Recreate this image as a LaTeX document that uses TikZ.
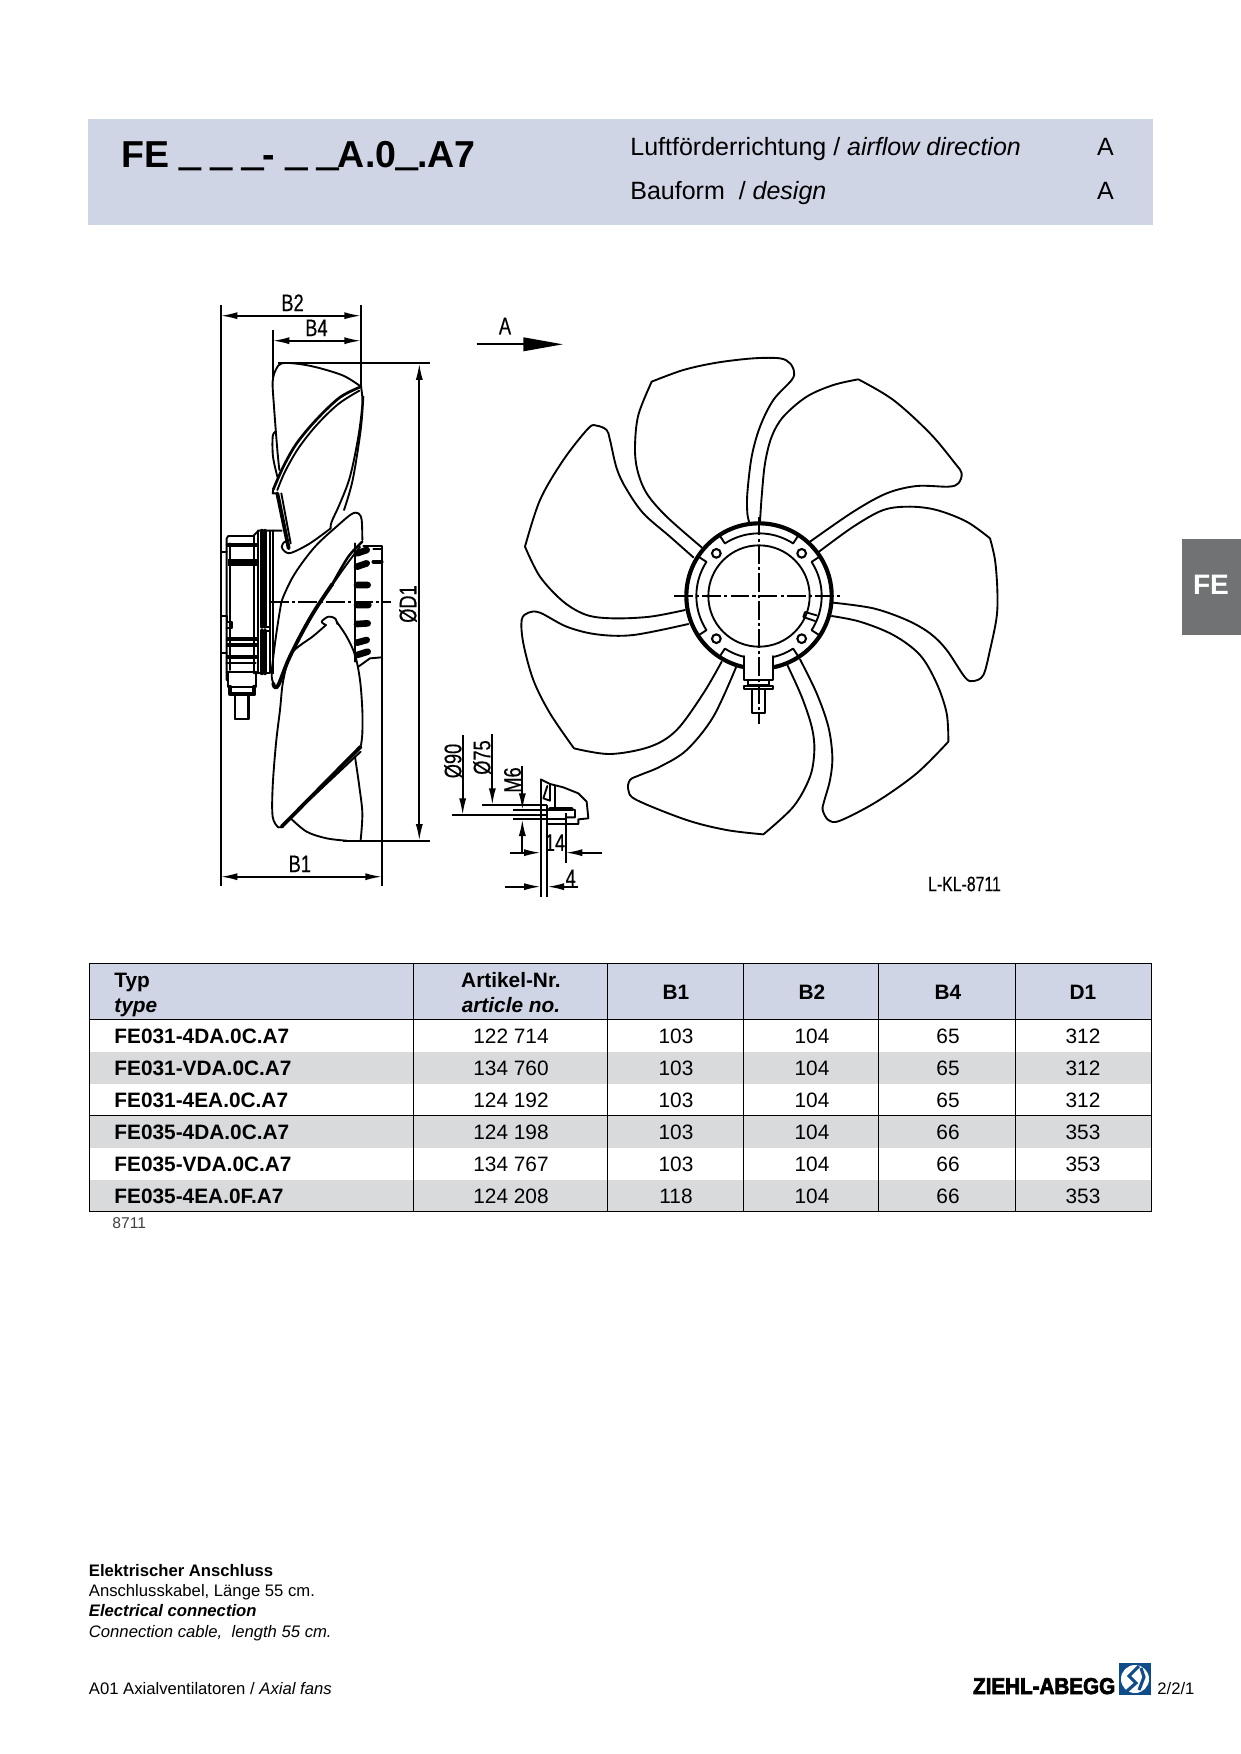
\documentclass[tikz,border=0pt]{standalone}
\usepackage{xcolor}
\usepackage{fontspec}
\usepackage{tikz}
\usetikzlibrary{arrows.meta, positioning}
\setmainfont{Liberation Sans}
\newfontfamily\cadfont[FakeStretch=.76,FakeBold=.4]{Liberation Sans}
\newfontfamily\logofont[FakeStretch=.9,FakeBold=3]{Liberation Sans Bold}
\definecolor{bandblue}{HTML}{D0D5E6}
\definecolor{rowgrey}{HTML}{D9DADC}
\definecolor{tabgrey}{HTML}{707274}
\definecolor{logoblue}{HTML}{0F4C8A}
\newcommand{\typegap}{\raisebox{1.2pt}{\addfontfeature{FakeBold=4}\symbol{95}}}
\tikzset{
  zoomed/.style={x=.16pt,y=-.16pt},
  outline/.style={line width=.9pt,line join=round,line cap=round},
  curve/.style={outline,smooth,tension=.55},
  heavy/.style={line width=1.8pt,line join=round,line cap=round},
  centreline/.style={line width=.9pt,dash pattern=on 9pt off 1.5pt on 1.5pt off 1.5pt},
  dimline/.style={line width=.85pt,{Latex[length=8pt,width=3.4pt]}-{Latex[length=8pt,width=3.4pt]}},
  dimhead/.style={line width=.85pt,-{Latex[length=8pt,width=3.4pt]}},
  extline/.style={line width=.85pt},
  cadtext/.style={inner sep=0pt,font={\cadfont\fontsize{11.5}{13}\selectfont}},
  cell/.style={inner sep=0pt,anchor=base,font={\fontsize{10}{12}\selectfont}},
  boldcell/.style={cell,font={\fontsize{10}{12}\selectfont\bfseries}},
  typecell/.style={boldcell,anchor=base west},
  rowline/.style={line width=.4pt},
  headtext/.style={inner sep=0pt,anchor=base west,font={\fontsize{12}{14}\selectfont}},
  foottext/.style={inner sep=0pt,anchor=base west,font={\fontsize{8}{10}\selectfont}}
}
\newcommand{\fanrow}[8]{%
  \node [typecell] (type#1) at (114,#2) {#3};
  \node [cell] (art#1) at (511,#2) {#4};
  \node [cell] (bone#1) at (676,#2) {#5};
  \node [cell] (btwo#1) at (812,#2) {#6};
  \node [cell] (bfour#1) at (948,#2) {#7};
  \node [cell] (done#1) at (1083,#2) {#8};
}
\begin{document}
\begin{tikzpicture}[x=.48pt,y=-.48pt]
  \useasboundingbox (0,0) rectangle (1241,1754);

  % header band
  \fill [bandblue] (88.4,118.6) rectangle (1152.5,225);
  \node [inner sep=0pt,anchor=base west,font={\fontsize{18}{20}\selectfont\bfseries}] (title) at (120.8,167.5) {FE \typegap{} \typegap{} \typegap{}- \typegap{} \typegap{}A.0\typegap{}.A7};
  \node [headtext] (airflow) at (630,155.5) {Luftförderrichtung / \textit{airflow direction}};
  \node [headtext] (design) at (630,199.5) {Bauform\ \ / \textit{design}};
  \node [headtext,anchor=base] (airflowval) at (1105.5,155.5) {A};
  \node [headtext,anchor=base] (designval) at (1105.5,199.5) {A};

  % side tab
  \fill [tabgrey] (1181.7,539.3) rectangle (1241,635);
  \node [inner sep=0pt,text=white,font={\fontsize{13.5}{15}\selectfont\bfseries}] (tab) at (1211,585) {FE};

  % dimensions of the side view
  \coordinate (btwol) at (220.7,315.7);
  \coordinate (btwor) at (361,315.7);
  \coordinate (bfourl) at (272.7,340.7);
  \coordinate (bfourr) at (361,340.7);
  \coordinate (bonel) at (220.7,876.7);
  \coordinate (boner) at (382,876.7);
  \coordinate (donet) at (419.3,363.3);
  \coordinate (doneb) at (419.3,840.7);
  \draw [dimline] (btwol) -- (btwor);
  \draw [dimline] (bfourl) -- (bfourr);
  \draw [dimline] (bonel) -- (boner);
  \draw [dimline] (donet) -- (doneb);
  \node [cadtext,above=2pt of btwol,xshift=34.5pt] (labelbtwo) {B2};
  \node [cadtext,above=2pt of bfourl,xshift=21pt] (labelbfour) {B4};
  \node [cadtext,above=2pt of bonel,xshift=38pt] (labelbone) {B1};
  \node [cadtext,rotate=90] (labeldone) at (408,604) {ØD1};
  \draw [extline] (220.7,305) -- (220.7,886);
  \draw [extline] (361,305) -- (361,387);
  \draw [extline] (272.7,330) -- (272.7,380);
  \draw [extline] (382,547) -- (382,886);
  \draw [extline] (278,362.7) -- (430,362.7);
  \draw [extline] (343,840.7) -- (430,840.7);
  \draw [centreline] (270,601.7) -- (391,601.7);

  % side view, upper part
  \begin{scope}[shift={(200,280)},zoomed]
    \draw [curve] plot coordinates {(483,320) (430,287) (350,262) (290,251) (245,250) (228,268) (218,305) (222,380) (232,510) (238,570)};
    \draw [curve] plot coordinates {(226,455) (218,470) (219,530) (232,590)};
    \draw [curve,line width=1.3pt] plot coordinates {(483,320) (420,352) (350,418) (290,490) (250,560) (220,628)};
    \draw [curve] plot coordinates {(478,332) (415,372) (350,435) (295,505) (255,575) (232,630)};
    \draw [outline] (220,628) -- (218,640) -- (232,640);
    \draw [heavy] (232,640) -- (266,805);
    \draw [outline] (244,640) -- (272,790);
    \draw [curve] plot coordinates {(483,320) (487,370) (475,470) (450,590) (420,670) (395,725) (392,745)};
    \draw [curve] plot coordinates {(490,350) (482,450) (458,600) (432,690)};
    \draw [curve] plot coordinates {(392,745) (330,790) (275,818) (255,815) (245,800) (255,785) (268,795)};
  \end{scope}

  % side view, motor and middle blade
  \begin{scope}[shift={(215,510)},zoomed]
    \draw [outline] (35,510) -- (35,85) -- (40,78) -- (115,78) -- (130,62) -- (175,62) -- (200,62);
    \draw [outline] (18,125) -- (35,125) (18,428) -- (35,428);
    \draw [outline] (20,318) -- (35,318) -- (35,335) -- (50,335) -- (50,355) -- (35,355);
    \draw [outline] (45,100) -- (45,480) (118,78) -- (118,490);
    \draw [outline] (130,62) -- (130,490) (165,62) -- (165,490) -- (130,490);
    \draw [heavy] (140,62) -- (140,350) (140,362) -- (140,490);
    \draw [heavy] (150,62) -- (150,350) (150,362) -- (150,490);
    \draw [outline] (140,350) -- (165,350) (140,362) -- (165,362);
    \draw [outline] (175,62) -- (175,490);
    \draw [heavy] (38,105) -- (125,105);
    \draw [line width=3.5pt] (38,157) -- (125,157);
    \draw [heavy] (38,388) -- (125,388) (38,405) -- (125,405);
    \draw [heavy] (38,440) -- (125,440);
    \draw [outline] (35,458) -- (122,458) (35,485) -- (122,485);
    \draw [outline] (38,485) -- (38,530) -- (122,530) -- (122,485);
    \draw [heavy] (45,530) -- (45,553) -- (118,553) -- (118,530);
    \draw [outline] (60,555) rectangle (100,627);
    % blade
    \draw [curve] plot coordinates {(175,520) (170,490) (180,400) (195,300) (205,260) (240,190) (300,110) (370,45) (410,12) (430,10) (440,30) (442,90)};
    \draw [curve,line width=1.2pt] plot coordinates {(442,95) (400,140) (352,222)};
    \draw [curve] plot coordinates {(435,110) (390,170) (345,235)};
    \draw [curve,line width=1.8pt] plot coordinates {(352,222) (300,300) (260,370) (220,450) (190,525) (178,530) (175,520)};
    % fins
    \draw [outline] (420,100) -- (420,455);
    \draw [line width=3.2pt,line cap=round]
      (426,130) -- (455,120) (426,170) -- (455,160) (426,225) -- (458,225)
      (426,285) -- (460,285) (426,342) -- (458,340) (426,398) -- (455,390)
      (426,435) -- (458,425);
    \draw [outline] (430,470) -- (465,445) -- (500,442);
    \draw [outline] (445,108) -- (500,108) -- (500,200);
    \draw [outline] (475,118) -- (500,118);
    \draw [heavy] (475,155) -- (500,155);
  \end{scope}

  % side view, lower part
  \begin{scope}[shift={(200,600)},zoomed]
    \draw [curve] plot coordinates {(378,75) (365,65) (385,50) (405,55) (412,72)};
    \draw [curve] plot coordinates {(410,65) (440,110) (465,165) (480,240) (487,330) (487,400) (483,435)};
    \draw [curve] plot coordinates {(378,75) (340,108) (275,160) (250,240) (240,330) (228,430) (218,560) (218,650) (235,682) (248,678)};
    \draw [outline] (105,285) -- (105,357) -- (147,357) -- (147,285);
    \draw [heavy] (245,680) -- (482,440);
    \draw [outline] (272,652) -- (482,455);
    \draw [curve] plot coordinates {(465,470) (478,560) (487,640) (482,720)};
    \draw [curve] plot coordinates {(272,655) (320,695) (380,715) (440,722)};
  \end{scope}

  % arrow A
  \coordinate (viewstart) at (476.7,344.3);
  \coordinate (viewend) at (563,344.3);
  \draw [line width=.9pt,-{Triangle[length=19pt,width=6.5pt]}] (viewstart) -- (viewend);
  \node [cadtext] (viewlabel) at (505,326) {A};

  % fan, front view
  \begin{scope}[shift={(500,340)},zoomed]
    \draw [curve] plot coordinates {(605,622) (500,530) (440,460) (412,390) (405,320) (415,225) (455,125)}
      plot coordinates {(455,125) (550,90) (650,68) (760,55) (840,55) (870,70) (882,95) (875,120) (820,180) (780,260) (755,350) (742,460) (742,520) (748,548)};
    \draw [curve] plot coordinates {(780,545) (785,470) (795,370) (815,290) (850,230) (920,170) (1000,135) (1075,118)}
      plot coordinates {(1075,118) (1180,180) (1290,280) (1365,370) (1385,400) (1375,430) (1345,440) (1250,438) (1160,460) (1060,515) (930,605)};
    \draw [curve] plot coordinates {(957,635) (1060,560) (1150,510) (1230,500) (1310,510) (1400,545) (1470,595)}
      plot coordinates {(1470,595) (1485,660) (1492,750) (1490,830) (1470,930) (1450,1005) (1420,1023) (1395,1012) (1340,930) (1290,880) (1220,840) (1120,805) (1000,788)};
    \draw [curve] plot coordinates {(995,828) (1080,845) (1180,885) (1260,945) (1310,1030) (1340,1120) (1345,1205)}
      plot coordinates {(1345,1205) (1250,1300) (1130,1385) (1020,1442) (985,1440) (968,1410) (972,1385) (990,1320) (997,1250) (985,1160) (950,1060) (900,958)};
    \draw [curve] plot coordinates {(862,975) (905,1070) (935,1160) (943,1230) (930,1310) (880,1400) (790,1483)}
      plot coordinates {(790,1483) (680,1470) (560,1440) (410,1380) (385,1350) (390,1320) (420,1305) (480,1280) (560,1230) (640,1130) (708,982)};
    \draw [curve] plot coordinates {(665,965) (610,1060) (530,1170) (450,1220) (330,1242) (222,1225)}
      plot coordinates {(222,1225) (150,1120) (100,1020) (70,910) (65,840) (85,818) (120,818) (200,860) (290,883) (400,885) (565,852)};
    \draw [curve] plot coordinates {(555,810) (450,830) (340,835) (260,825) (190,785) (120,710) (75,620)}
      plot coordinates {(75,620) (120,480) (190,360) (265,265) (290,257) (320,270) (330,300) (350,385) (378,445) (430,520) (510,590) (580,652)};
    % hub
    \begin{scope}[shift={(777,768)},y=.16pt]
      \draw [line width=2pt] (0,0) circle (218);
      \draw [outline] (0,0) circle (152);
      \draw [outline] (123:212) -- (123:188) arc[start angle=123,end angle=57,radius=188] -- (57:212);
      \draw [outline] (33:212) -- (33:188) arc[start angle=33,end angle=-33,radius=188] -- (-33:212);
      \draw [outline] (147:212) -- (147:188) arc[start angle=147,end angle=213,radius=188] -- (213:212);
      \draw [outline] (237:212) -- (237:188) arc[start angle=237,end angle=257,radius=188];
      \draw [outline] (283:188) arc[start angle=283,end angle=303,radius=188] -- (303:212);
      \draw [line width=1pt] (128,128) circle (13) (-128,128) circle (13) (128,-128) circle (13) (-128,-128) circle (13);
      \draw [outline] (138,-48) -- (173,-58) (133,-63) -- (168,-75) (133,-63) -- (138,-48);
      % terminal box
      \fill [white] (-44,-178) rectangle (43,-252);
      \draw [outline] (-44,-180) -- (-44,-252) -- (43,-252) -- (43,-180);
      \draw [outline] (-32,-252) -- (-32,-267) -- (31,-267) -- (31,-252);
      \draw [outline] (-44,-269) rectangle (41,-279);
      \draw [outline] (-20,-279) rectangle (18,-350);
      \draw [centreline] (-254,0) -- (248,0);
      \draw [centreline] (0,238) -- (0,-384);
    \end{scope}
  \end{scope}

  % detail of the mounting foot
  \begin{scope}[shift={(450,730)},zoomed]
    \draw [dimhead] (38,15) -- (38,255);
    \draw [dimhead] (127,12) -- (127,225);
    \draw [dimhead] (217,108) -- (217,240);
    \draw [dimhead] (217,370) -- (217,268);
    \draw [extline] (5,255) -- (292,255) (97,225) -- (292,225);
    \draw [extline] (190,240) -- (350,240) (190,268) -- (350,268);
    \draw [extline] (272,148) -- (272,500) (292,225) -- (292,500) (347,250) -- (347,398);
    \draw [dimhead] (180,368) -- (272,368);
    \draw [dimhead] (455,368) -- (347,368);
    \draw [dimhead] (165,470) -- (272,470);
    \draw [dimhead] (385,470) -- (292,470);
    \draw [outline] (272,148) -- (300,162) -- (340,172) -- (385,190) -- (410,215) -- (415,265) -- (385,268) -- (385,282) -- (292,282);
    \draw [outline] (292,168) -- (280,205) -- (300,212) -- (300,162) (315,168) -- (315,235);
    \draw [heavy] (300,238) -- (365,238);
    \draw [outline] (365,238) -- (375,240) -- (375,262) -- (350,262);
  \end{scope}
  \node [cadtext,rotate=90] (labelphininety) at (453,761) {Ø90};
  \node [cadtext,rotate=90] (labelphiseventy) at (482,757.5) {Ø75};
  \node [cadtext,rotate=90] (labelmsix) at (512.5,780) {M6};
  \node [cadtext] (labelfourteen) at (555,842.6) {14};
  \node [cadtext] (labelfour) at (570.7,878) {4};
  \node [cadtext,font={\cadfont\fontsize{10}{12}\selectfont}] (drawingno) at (964.5,884) {L-KL-8711};

  % table
  \fill [bandblue] (89.5,963.4) rectangle (1151.4,1019.4);
  \fill [rowgrey] (89.5,1051.5) rectangle (1151.4,1083.6);
  \fill [rowgrey] (89.5,1115.6) rectangle (1151.4,1148);
  \fill [rowgrey] (89.5,1179.5) rectangle (1151.4,1211.8);
  \draw [rowline] (89.5,963.4) -- (1151.4,963.4) (89.5,1019.4) -- (1151.4,1019.4);
  \draw [rowline] (89.5,1115.6) -- (1151.4,1115.6) (89.5,1211.8) -- (1151.4,1211.8);
  \draw [rowline] (89.5,963.4) -- (89.5,1211.8) (413,963.4) -- (413,1211.8) (607.6,963.4) -- (607.6,1211.8);
  \draw [rowline] (743,963.4) -- (743,1211.8) (878.4,963.4) -- (878.4,1211.8);
  \draw [rowline] (1015,963.4) -- (1015,1211.8) (1151.4,963.4) -- (1151.4,1211.8);
  \node [typecell] (typede) at (114,987) {Typ};
  \node [typecell,font={\fontsize{10}{12}\selectfont\bfseries\itshape}] (typeen) at (114,1012.6) {type};
  \node [boldcell] (artde) at (511,987) {Artikel-Nr.};
  \node [boldcell,font={\fontsize{10}{12}\selectfont\bfseries\itshape}] (arten) at (511,1012.6) {article no.};
  \node [boldcell] (headbone) at (676,999) {B1};
  \node [boldcell] (headbtwo) at (812,999) {B2};
  \node [boldcell] (headbfour) at (948,999) {B4};
  \node [boldcell] (headdone) at (1083,999) {D1};
  \fanrow{a}{1043}{FE031-4DA.0C.A7}{122 714}{103}{104}{65}{312}
  \fanrow{b}{1075}{FE031-VDA.0C.A7}{134 760}{103}{104}{65}{312}
  \fanrow{c}{1107}{FE031-4EA.0C.A7}{124 192}{103}{104}{65}{312}
  \fanrow{d}{1139}{FE035-4DA.0C.A7}{124 198}{103}{104}{66}{353}
  \fanrow{e}{1171.5}{FE035-VDA.0C.A7}{134 767}{103}{104}{66}{353}
  \fanrow{f}{1203}{FE035-4EA.0F.A7}{124 208}{118}{104}{66}{353}
  \node [foottext,font={\fontsize{7.5}{9}\selectfont},text=black!75] (listno) at (112,1228.6) {8711};

  % footer
  \node [foottext,font={\fontsize{8}{10}\selectfont\bfseries}] (elekde) at (88.5,1576.6) {Elektrischer Anschluss};
  \node [foottext] (cablede) at (88.5,1596.7) {Anschlusskabel, Länge 55 cm.};
  \node [foottext,font={\fontsize{8}{10}\selectfont\bfseries\itshape}] (eleken) at (88.5,1616.8) {Electrical connection};
  \node [foottext,font={\fontsize{8}{10}\selectfont\itshape}] (cableen) at (88.5,1637) {Connection cable,\ \ length 55 cm.};
  \node [foottext] (series) at (88.5,1694) {A01 Axialventilatoren / \textit{Axial fans}};
  \node [foottext] (pageno) at (1157,1694) {2/2/1};

  % logo
  \node [inner sep=0pt,anchor=base west,font={\logofont\fontsize{11}{13}\selectfont}] (logotext) at (972.7,1694) {ZIEHL-ABEGG};
  \fill [logoblue] (1119,1663.3) rectangle (1151,1694.7);
  \fill [white] (1135,1679) circle (14);
  \draw [logoblue,line width=1.5pt] (1139,1666) -- (1129,1676) -- (1136,1683) -- (1127,1691);
  \draw [logoblue,line width=1.5pt] (1141,1668) -- (1144,1677) -- (1139,1690);
\end{tikzpicture}
\end{document}
